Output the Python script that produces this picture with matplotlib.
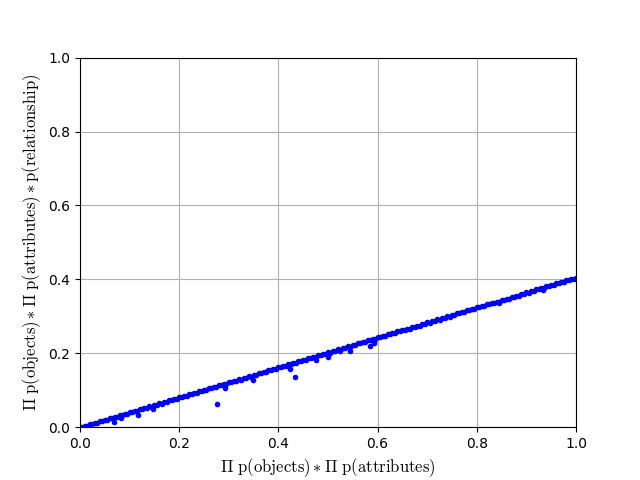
import matplotlib
matplotlib.use("Agg")
import matplotlib.pyplot as plt

plt.rcParams['mathtext.fontset'] = 'cm'

# main band of points along the diagonal trend
x_main = [0.00, 0.01, 0.02, 0.03, 0.04, 0.05, 0.06, 0.07, 0.08, 0.09,
          0.10, 0.11, 0.12, 0.13, 0.14, 0.15, 0.16, 0.17, 0.18, 0.19,
          0.20, 0.21, 0.22, 0.23, 0.24, 0.25, 0.26, 0.27, 0.28, 0.29,
          0.30, 0.31, 0.32, 0.33, 0.34, 0.35, 0.36, 0.37, 0.38, 0.39,
          0.40, 0.41, 0.42, 0.43, 0.44, 0.45, 0.46, 0.47, 0.48, 0.49,
          0.50, 0.51, 0.52, 0.53, 0.54, 0.55, 0.56, 0.57, 0.58, 0.59,
          0.60, 0.61, 0.62, 0.63, 0.64, 0.65, 0.66, 0.67, 0.68, 0.69,
          0.70, 0.71, 0.72, 0.73, 0.74, 0.75, 0.76, 0.77, 0.78, 0.79,
          0.80, 0.81, 0.82, 0.83, 0.84, 0.85, 0.86, 0.87, 0.88, 0.89,
          0.90, 0.91, 0.92, 0.93, 0.94, 0.95, 0.96, 0.97, 0.98, 0.99, 1.00]
y_main = [0.000, 0.004, 0.008, 0.012, 0.016, 0.020, 0.024, 0.028, 0.032, 0.036,
          0.041, 0.045, 0.049, 0.053, 0.057, 0.061, 0.065, 0.069, 0.073, 0.077,
          0.081, 0.085, 0.089, 0.093, 0.097, 0.101, 0.105, 0.109, 0.113, 0.117,
          0.122, 0.126, 0.130, 0.134, 0.138, 0.142, 0.146, 0.150, 0.154, 0.158,
          0.162, 0.166, 0.170, 0.174, 0.178, 0.182, 0.186, 0.190, 0.194, 0.198,
          0.203, 0.207, 0.211, 0.215, 0.219, 0.223, 0.227, 0.231, 0.235, 0.239,
          0.243, 0.247, 0.251, 0.255, 0.259, 0.263, 0.267, 0.271, 0.275, 0.279,
          0.284, 0.288, 0.292, 0.296, 0.300, 0.304, 0.308, 0.312, 0.316, 0.320,
          0.324, 0.328, 0.332, 0.336, 0.340, 0.344, 0.348, 0.352, 0.356, 0.360,
          0.365, 0.369, 0.373, 0.377, 0.381, 0.385, 0.389, 0.393, 0.397, 0.401, 0.405]

# in-between points that fill the trend
x_band = [0.005, 0.015, 0.025, 0.035, 0.045, 0.055, 0.065, 0.075, 0.085, 0.095,
          0.105, 0.115, 0.125, 0.135, 0.145, 0.155, 0.165, 0.175, 0.185, 0.195,
          0.205, 0.215, 0.225, 0.235, 0.245, 0.255, 0.265, 0.275, 0.285, 0.295,
          0.305, 0.315, 0.325, 0.335, 0.345, 0.355, 0.365, 0.375, 0.385, 0.395,
          0.405, 0.415, 0.425, 0.435, 0.445, 0.455, 0.465, 0.475, 0.485, 0.495,
          0.505, 0.515, 0.525, 0.535, 0.545, 0.555, 0.565, 0.575, 0.585, 0.595,
          0.605, 0.615, 0.625, 0.635, 0.645, 0.655, 0.665, 0.675, 0.685, 0.695,
          0.705, 0.715, 0.725, 0.735, 0.745, 0.755, 0.765, 0.775, 0.785, 0.795,
          0.805, 0.815, 0.825, 0.835, 0.845, 0.855, 0.865, 0.875, 0.885, 0.895,
          0.905, 0.915, 0.925, 0.935, 0.945, 0.955, 0.965, 0.975, 0.985, 0.995]
y_band = [0.000, 0.004, 0.008, 0.012, 0.016, 0.020, 0.024, 0.028, 0.032, 0.036,
          0.040, 0.044, 0.048, 0.052, 0.056, 0.060, 0.064, 0.069, 0.073, 0.077,
          0.081, 0.085, 0.089, 0.093, 0.097, 0.101, 0.105, 0.109, 0.113, 0.117,
          0.121, 0.125, 0.129, 0.133, 0.137, 0.142, 0.146, 0.150, 0.154, 0.158,
          0.162, 0.166, 0.170, 0.174, 0.178, 0.182, 0.186, 0.190, 0.194, 0.198,
          0.202, 0.206, 0.210, 0.214, 0.218, 0.223, 0.227, 0.231, 0.235, 0.239,
          0.243, 0.247, 0.251, 0.255, 0.259, 0.263, 0.267, 0.271, 0.275, 0.279,
          0.283, 0.287, 0.291, 0.295, 0.299, 0.304, 0.308, 0.312, 0.316, 0.320,
          0.324, 0.328, 0.332, 0.336, 0.340, 0.344, 0.348, 0.352, 0.356, 0.360,
          0.364, 0.368, 0.373, 0.377, 0.381, 0.385, 0.389, 0.393, 0.397, 0.401]

# points that fall below the trend
x_out = [0.277, 0.433, 0.423, 0.476, 0.499, 0.348, 0.292, 0.116, 0.082,
         0.069, 0.148, 0.544, 0.525, 0.585, 0.593, 0.845, 0.934, 0.593]
y_out = [0.062, 0.137, 0.158, 0.181, 0.189, 0.129, 0.107, 0.034, 0.024,
         0.015, 0.050, 0.207, 0.206, 0.220, 0.227, 0.337, 0.371, 0.233]

fig, ax = plt.subplots(figsize=(6.4, 4.8), dpi=100)
ax.plot(x_main, y_main, 'b.')
ax.plot(x_band, y_band, 'b.')
ax.plot(x_out, y_out, 'b.')
ax.set_xlim(0, 1)
ax.set_ylim(0, 1)
ax.grid(True)
ax.set_xlabel(r'$\Pi\ \mathrm{p(objects)} * \Pi\ \mathrm{p(attributes)}$', fontsize=12)
ax.set_ylabel(r'$\Pi\ \mathrm{p(objects)} * \Pi\ \mathrm{p(attributes)} * \mathrm{p(relationship)}$',
              fontsize=12)

fig.savefig('out.png', dpi=100)
